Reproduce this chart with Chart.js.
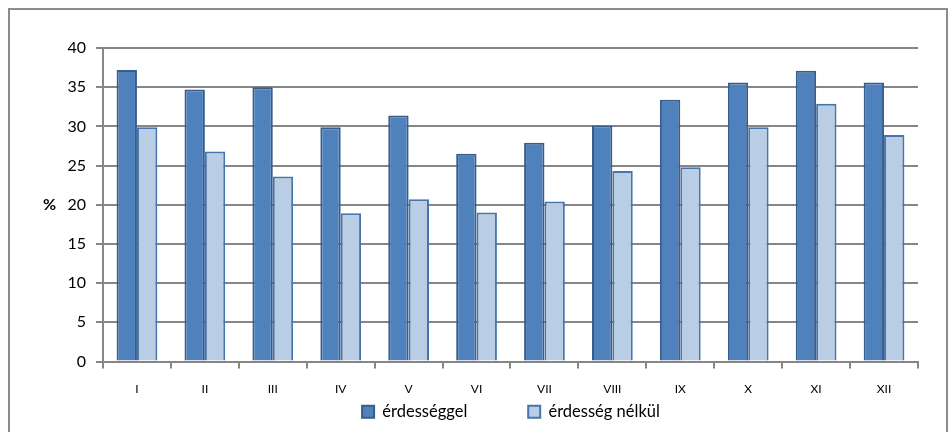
<!DOCTYPE html>
<html>
<head>
<meta charset="utf-8">
<script src="https://cdn.jsdelivr.net/npm/chart.js@4"></script>
<style>
  html, body { margin: 0; padding: 0; background: #fff; }
  #wrap { position: relative; width: 952px; height: 432px; }
  #keret { position: absolute; left: 8px; top: 8px; width: 940px; height: 430px; border: 2px solid #8c8c8c; box-sizing: border-box; }
  canvas { position: absolute; left: 0; top: 0; }
</style>
</head>
<body>
<div id="wrap">
  <div id="keret"></div>
  <canvas id="grafikon" width="952" height="432"></canvas>
</div>
<script>
// havi adatok (%)
const honapok = ["I", "II", "III", "IV", "V", "VI", "VII", "VIII", "IX", "X", "XI", "XII"];
const erdesseggel = [37.2, 34.7, 35.0, 29.9, 31.4, 26.5, 27.9, 30.1, 33.4, 35.6, 37.1, 35.6];
const erdessegNelkul = [29.9, 26.8, 23.6, 18.9, 20.7, 19.0, 20.4, 24.3, 24.8, 29.9, 32.9, 28.9];
const yTickek = [0, 5, 10, 15, 20, 25, 30, 35, 40];

const betu = "Lato, 'Noto Sans', sans-serif";

// a "%" felirat a 20-as osztás mellé
const szazalekJel = {
  id: "szazalekJel",
  afterDraw(chart) {
    const ctx = chart.ctx;
    const y = chart.scales.y.getPixelForValue(20);
    ctx.save();
    ctx.font = "bold 16px " + betu;
    ctx.fillStyle = "#000";
    ctx.textAlign = "left";
    ctx.textBaseline = "middle";
    ctx.fillText("%", 43, y);
    ctx.restore();
  }
};

// a jelmagyarázat kicsit jobbra kerül, mint az eredetin
const legendEltolas = {
  id: "legendEltolas",
  afterLayout(chart) {
    if (chart.legend) {
      chart.legend.left += 52;
      chart.legend.right += 52;
    }
  }
};

const config = {
  type: "bar",
  data: {
    labels: honapok,
    datasets: [
      {
        label: "érdességgel",
        data: erdesseggel,
        backgroundColor: "#4F81BD",
        borderColor: "#385D8A",
        borderWidth: 2
      },
      {
        label: "érdesség nélkül",
        data: erdessegNelkul,
        backgroundColor: "#B9CDE5",
        borderColor: "#4674AC",
        borderWidth: 2
      }
    ]
  },
  options: {
    responsive: false,
    animation: false,
    layout: { padding: { left: 0, right: 34, top: 48, bottom: 2 } },
    datasets: { bar: { categoryPercentage: 0.6, barPercentage: 1.0 } },
    plugins: {
      tooltip: { enabled: false },
      legend: {
        position: "bottom",
        labels: {
          font: { family: betu, size: 16.5 },
          color: "#000",
          boxWidth: 12,
          boxHeight: 12,
          padding: 6,
          generateLabels(chart) {
            return chart.data.datasets.map((ds, i) => ({
              text: i === 0 ? ds.label + "             " : ds.label,
              fillStyle: ds.backgroundColor,
              strokeStyle: ds.borderColor,
              lineWidth: 2,
              datasetIndex: i,
              fontColor: "#000"
            }));
          }
        }
      }
    },
    scales: {
      x: {
        afterFit(scale) { scale.height = 36; },
        grid: {
          offset: true,
          drawOnChartArea: false,
          color: "#868686",
          lineWidth: 2,
          tickLength: 7
        },
        border: { color: "#868686", width: 2 },
        ticks: { font: { family: betu, size: 12 }, color: "#000", padding: 13 }
      },
      y: {
        min: 0,
        max: 40,
        afterFit(scale) { scale.width = 103; },
        afterBuildTicks(scale) { scale.ticks = yTickek.map(v => ({ value: v })); },
        grid: { color: "#868686", lineWidth: 2, tickLength: 7 },
        border: { color: "#868686", width: 2 },
        ticks: { font: { family: betu, size: 16 }, color: "#000", padding: 10 }
      }
    }
  },
  plugins: [szazalekJel, legendEltolas]
};

new Chart(document.getElementById("grafikon"), config);
</script>
</body>
</html>
